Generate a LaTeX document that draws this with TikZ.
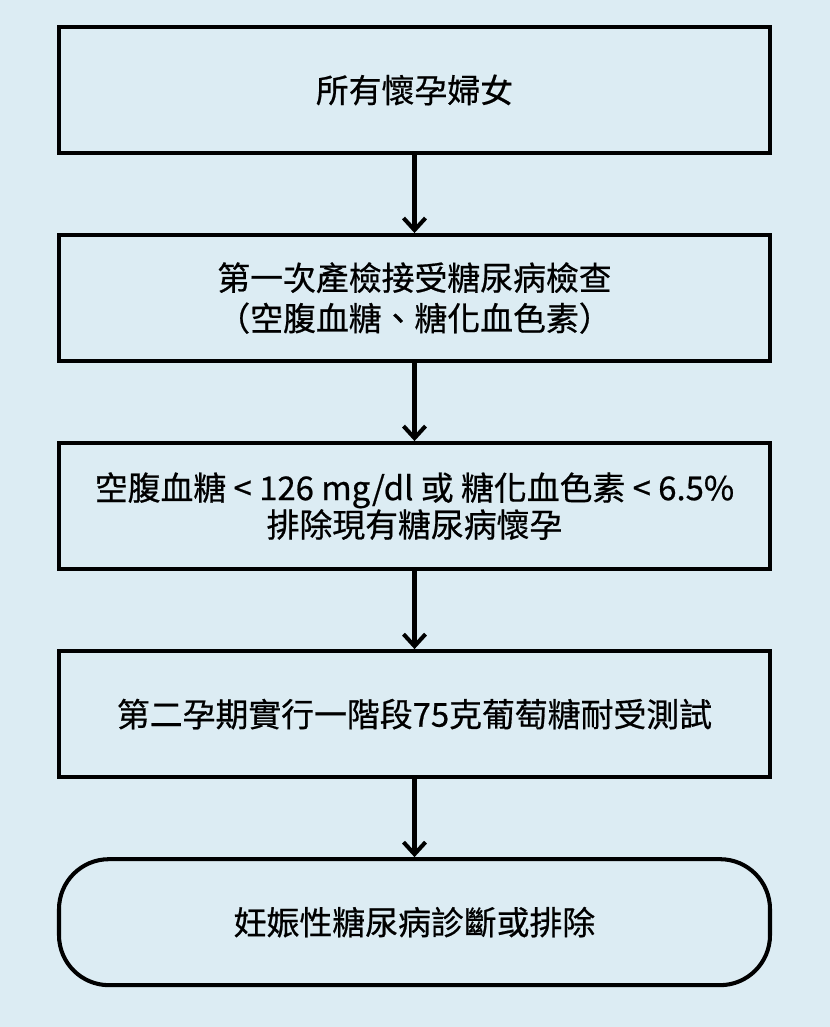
\documentclass[tikz,border=0pt]{standalone}
\usepackage{fontspec}
\setmainfont{Noto Sans CJK TC}[BoldFont={Noto Sans CJK TC}, BoldFeatures={FakeBold=0.6}]
\usetikzlibrary{arrows.meta, positioning}
\definecolor{bgblue}{RGB}{220,236,243}

\begin{document}
\begin{tikzpicture}[
  node distance=1.56cm,
  box/.style={rectangle, draw, line width=2.3pt, align=center, minimum width=14.22cm, minimum height=2.52cm, font=\fontsize{18.7}{21}\selectfont\bfseries},
  endbox/.style={box, rounded corners=1cm},
  line/.style={line width=2.3pt, -{Straight Barb[length=2.4mm, width=4.4mm]}}
]
\fill[bgblue] (0,0) rectangle (16.6,-20.54);
\useasboundingbox (0,0) rectangle (16.6,-20.54);

\node[box] (all) at (8.29,-1.8) {所有懷孕婦女};
\node[box, below=of all] (first) {第一次產檢接受糖尿病檢查\\[2pt]（空腹血糖、糖化血色素）};
\node[box, below=of first] (exclude) {空腹血糖 < 126 mg/dl 或 糖化血色素 < 6.5\%\\排除現有糖尿病懷孕};
\node[box, below=of exclude] (ogtt) {第二孕期實行一階段75克葡萄糖耐受測試};
\node[endbox, below=of ogtt] (diag) {妊娠性糖尿病診斷或排除};

\draw[line] (all) -- (first);
\draw[line] (first) -- (exclude);
\draw[line] (exclude) -- (ogtt);
\draw[line] (ogtt) -- (diag);
\end{tikzpicture}
\end{document}
